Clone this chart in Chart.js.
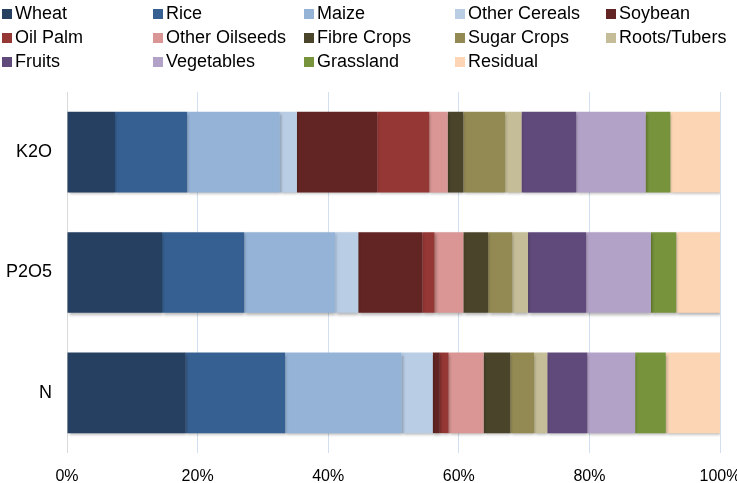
<!DOCTYPE html>
<html>
<head>
<meta charset="utf-8">
<script src="https://cdn.jsdelivr.net/npm/chart.js"></script>
<style>
  html, body { margin: 0; padding: 0; background: #fff; }
  #wrap { position: relative; width: 737px; height: 483px; overflow: hidden; }
  #legend { position: absolute; left: 0; top: 0; width: 737px; height: 80px;
            font-family: "Liberation Sans", Arial, sans-serif; font-size: 18px; color: #000; }
  .item { position: absolute; white-space: nowrap; line-height: 24px; }
  .box { display: inline-block; width: 10px; height: 10px; margin-right: 3px; vertical-align: 0px; }
</style>
</head>
<body>
<div id="wrap">
  <canvas id="nutrients" width="737" height="483"></canvas>
  <div id="legend"></div>
</div>
<script>
// nutrient categories, top to bottom
const nutrients = ['K2O', 'P2O5', 'N'];

const crops = ['Wheat', 'Rice', 'Maize', 'Other Cereals', 'Soybean',
               'Oil Palm', 'Other Oilseeds', 'Fibre Crops', 'Sugar Crops', 'Roots/Tubers',
               'Fruits', 'Vegetables', 'Grassland', 'Residual'];

// share of each nutrient (%) per crop, in order K2O, P2O5, N
const wheat        = [7.35, 14.55, 18.2];
const rice         = [11.05, 12.6, 15.2];
const maize        = [14.2, 13.95, 17.85];
const otherCereals = [2.6, 3.5, 4.75];
const soybean      = [12.3, 9.8, 1.1];
const oilPalm      = [8.0, 1.9, 1.35];
const otherOilseeds = [2.8, 4.4, 5.35];
const fibreCrops   = [2.4, 3.8, 4.1];
const sugarCrops   = [6.4, 3.7, 3.65];
const rootsTubers  = [2.5, 2.4, 2.0];
const fruits       = [8.4, 8.9, 6.15];
const vegetables   = [10.6, 9.9, 7.3];
const grassland    = [3.8, 3.9, 4.7];
const residual     = [7.6, 6.7, 8.3];

const xTicks = [0, 20, 40, 60, 80, 100];

const seriesValues = [wheat, rice, maize, otherCereals, soybean, oilPalm, otherOilseeds,
                      fibreCrops, sugarCrops, rootsTubers, fruits, vegetables, grassland, residual];

const colors = ['#254061', '#376092', '#95B3D7', '#B9CDE5', '#632523',
                '#953735', '#D99694', '#4A452A', '#938953', '#C4BD97',
                '#604A7B', '#B3A2C7', '#77933C', '#FCD5B5'];

// legend in 5 columns, like the original
const legend = document.getElementById('legend');
crops.forEach((name, i) => {
  const el = document.createElement('div');
  el.className = 'item';
  el.style.left = (2 + (i % 5) * 151) + 'px';
  el.style.top = (1 + Math.floor(i / 5) * 24) + 'px';
  el.innerHTML = '<span class="box" style="background:' + colors[i] + '"></span>' + name;
  legend.appendChild(el);
});

// soft drop shadow under the bars
const barShadow = {
  id: 'barShadow',
  beforeDatasetsDraw(chart) {
    const c = chart.ctx;
    c.save();
    c.shadowColor = 'rgba(0,0,0,0.3)';
    c.shadowBlur = 3;
    c.shadowOffsetX = 1;
    c.shadowOffsetY = 2;
  },
  afterDatasetsDraw(chart) {
    chart.ctx.restore();
  }
};

const ctx = document.getElementById('nutrients').getContext('2d');
new Chart(ctx, {
  type: 'bar',
  data: {
    labels: nutrients,
    datasets: crops.map((name, i) => ({
      label: name,
      data: seriesValues[i],
      backgroundColor: colors[i],
      borderWidth: 0,
      barPercentage: 0.67,
      categoryPercentage: 1
    }))
  },
  options: {
    indexAxis: 'y',
    responsive: false,
    animation: false,
    layout: { padding: { top: 92, right: 17, left: 0, bottom: 0 } },
    plugins: {
      legend: { display: false },
      tooltip: { enabled: false }
    },
    scales: {
      x: {
        stacked: true,
        min: 0,
        max: 100,
        afterBuildTicks: (scale) => { scale.ticks = xTicks.map(v => ({ value: v })); },
        afterFit: (scale) => {
          scale.height = 30;
          // let the "100%" label run off the edge instead of shrinking the plot
          scale.paddingLeft = 0;
          scale.paddingRight = 0;
        },
        border: { display: false },
        grid: {
          drawTicks: false,
          color: (c) => c.index === 0 ? '#d9d9d9' : '#d3dfee',
          lineWidth: 1
        },
        ticks: {
          padding: 14,
          color: '#000',
          font: { family: 'Liberation Sans', size: 16 },
          callback: (v) => v + '%'
        }
      },
      y: {
        stacked: true,
        afterFit: (scale) => { scale.width = 67; },
        border: { display: false },
        grid: { display: false, drawTicks: false },
        ticks: {
          padding: 15,
          color: '#000',
          font: { family: 'Liberation Sans', size: 18 }
        }
      }
    }
  },
  plugins: [barShadow]
});
</script>
</body>
</html>
